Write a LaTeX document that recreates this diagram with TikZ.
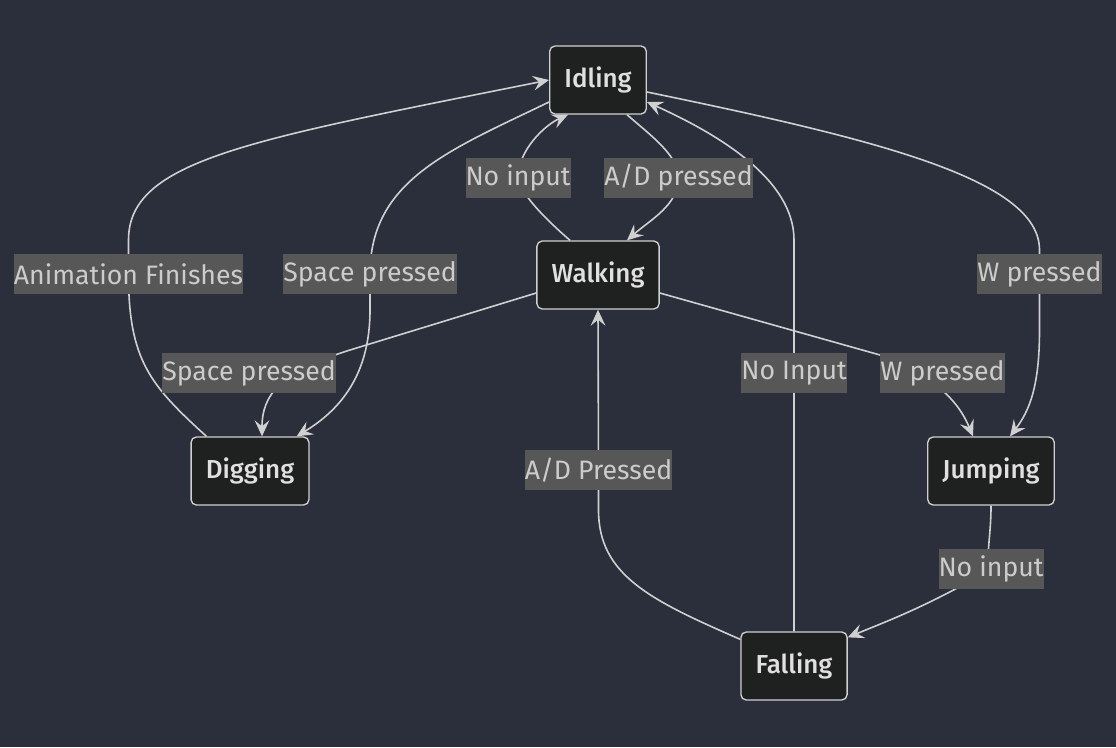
\documentclass[tikz,border=0pt]{standalone}
\usepackage{fontspec}
\setmainfont{Fira Sans}
\newfontfamily\statefont{Fira Sans Medium}
\usetikzlibrary{arrows.meta,calc}

\definecolor{bgcol}{HTML}{2A2F3B}
\definecolor{statefill}{HTML}{1F2020}
\definecolor{lblfill}{HTML}{575757}
\definecolor{linecol}{HTML}{D0D0D0}

\begin{document}
\begin{tikzpicture}[x=0.75pt,y=-0.75pt]
\tikzset{state/.style = {shape=rectangle,rounded corners=4pt,draw=linecol,line width=1pt,fill=statefill,text=white!88!black,minimum height=51pt,inner xsep=11pt,font=\statefont\fontsize{19.5pt}{22pt}\selectfont}}
\tikzset{lbl/.style = {shape=rectangle,fill=lblfill,text=white!80!black,inner xsep=0pt,inner ysep=0pt,minimum height=30pt,font=\fontsize{20pt}{23pt}\selectfont}}
\tikzset{edge/.style = {draw=linecol,line width=1.2pt,-{Stealth[length=12pt,width=11pt,inset=4.5pt]}}}

\fill[bgcol] (0,0) rectangle (1116,747);
\useasboundingbox (0,0) rectangle (1116,747);

\node[state] (idle) at (598,80)  {Idling};
\node[state] (walk) at (598,275) {Walking};
\node[state] (dig)  at (250,471) {Digging};
\node[state] (jump) at (991,471) {Jumping};
\node[state] (fall) at (794,666) {Falling};

\coordinate (lanim)   at (128.5,274);
\coordinate (lspace)  at (370,274);
\coordinate (lnoin)   at (518,178);
\coordinate (lad)     at (678.5,178);
\coordinate (lw)      at (1039.5,274);
\coordinate (lspacew) at (249,373);
\coordinate (lnoinf)  at (794,373);
\coordinate (lww)     at (942.5,373);
\coordinate (ladf)    at (598.5,470);
\coordinate (lnoinj)  at (991,569);

\draw[edge] ($(dig.north west)+(16,0)$) .. controls (150,385) and (128.5,360) .. (lanim) -- (128.5,240) .. controls (128.5,160) and (250,140) .. (idle.west);
\draw[edge] ($(idle.west)+(0,22)$) .. controls (450,150) and (370,180) .. (lspace) -- (370,310) .. controls (370,375) and (340,410) .. ($(dig.north east)+(-13,0)$);
\draw[edge] ($(walk.west)+(0,18)$) -- (350,350) .. controls (280,372) and (262,395) .. ($(dig.north)+(12,0)$);
\draw[edge] ($(walk.north)+(-28,0)$) .. controls (535,210) and (520,190) .. (lnoin) .. controls (518,150) and (545,125) .. ($(idle.south)+(-30,0)$);
\draw[edge] ($(idle.south)+(29,0)$) .. controls (650,135) and (678.5,155) .. (lad) .. controls (678.5,205) and (650,220) .. ($(walk.north)+(29,0)$);
\draw[edge] ($(idle.east)+(0,12)$) .. controls (880,140) and (1039.5,180) .. (1039.5,250) -- (lw) -- (1039.5,330) .. controls (1039.5,385) and (1030,410) .. ($(jump.north)+(19,0)$);
\draw[edge] ($(walk.east)+(0,18)$) -- (880,355) .. controls (945,380) and (962,410) .. ($(jump.north)+(-18,0)$);
\draw[edge] (fall.north) -- (lnoinf) -- (794,240) .. controls (794,180) and (720,135) .. ($(idle.east)+(0,22)$);
\draw[edge] ($(fall.north west)+(0,8)$) .. controls (650,600) and (598.5,575) .. (598.5,510) -- (ladf) -- (walk.south);
\draw[edge] (jump.south) .. controls (991,540) and (985,555) .. (lnoinj) .. controls (930,605) and (890,620) .. ($(fall.north east)+(0,6)$);

\node[lbl] (t1)  at (lanim)   {Animation Finishes};
\node[lbl] (t2)  at (lspace)  {Space pressed};
\node[lbl] (t3)  at (lnoin)   {No input};
\node[lbl] (t4)  at (lad)     {A/D pressed};
\node[lbl] (t5)  at (lw)      {W pressed};
\node[lbl] (t6)  at (lspacew) {Space pressed};
\node[lbl] (t7)  at (lnoinf)  {No Input};
\node[lbl] (t8)  at (lww)     {W pressed};
\node[lbl] (t9)  at (ladf)    {A/D Pressed};
\node[lbl] (t10) at (lnoinj)  {No input};
\end{tikzpicture}
\end{document}
